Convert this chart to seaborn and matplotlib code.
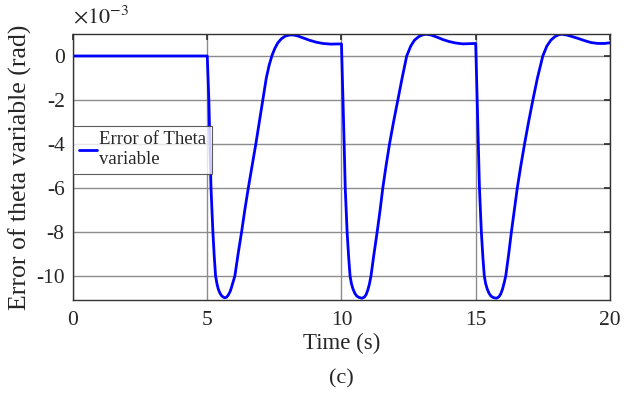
import matplotlib
matplotlib.use("Agg")
import matplotlib.pyplot as plt
import seaborn as sns
import pandas as pd

# Time (s) and error (x1e-3 rad)
time_s = [0.0, 5.0, 5.03, 5.06, 5.10, 5.14, 5.21, 5.26, 5.31, 5.36, 5.41, 5.47, 5.53, 5.60, 5.66, 5.72, 5.78, 5.85, 5.91, 5.97, 6.03,
          6.15, 6.28, 6.40, 6.53, 6.67, 6.81, 6.94, 7.07, 7.20, 7.31, 7.42, 7.52, 7.63, 7.76, 7.90, 8.05, 8.18, 8.35, 8.55, 8.80, 9.05, 9.30, 9.60, 9.98,
          10.0, 10.03, 10.06, 10.10, 10.14, 10.21, 10.27, 10.32, 10.37, 10.43, 10.50, 10.57, 10.65, 10.76, 10.85, 10.92, 10.98, 11.04, 11.10,
          11.20, 11.33, 11.44, 11.54, 11.66, 11.79, 11.94, 12.10, 12.26, 12.43, 12.58, 12.72, 12.88, 13.02, 13.15, 13.35, 13.55, 13.77, 14.00, 14.25, 14.52, 14.75, 14.98,
          15.0, 15.03, 15.06, 15.10, 15.14, 15.21, 15.27, 15.32, 15.37, 15.43, 15.50, 15.57, 15.66, 15.77, 15.86, 15.93, 16.00, 16.06, 16.12,
          16.23, 16.33, 16.44, 16.55, 16.68, 16.82, 16.97, 17.13, 17.30, 17.50, 17.65, 17.80, 17.95, 18.10, 18.20, 18.40, 18.60, 18.81, 19.10, 19.30, 19.55, 19.80, 20.0]
error_e3 = [0.0, 0.0, -1.0, -2.0, -4.0, -6.0, -8.0, -9.1, -10.0, -10.35, -10.6, -10.78, -10.9, -10.97, -11.0, -10.97, -10.88, -10.72, -10.5, -10.25, -10.0,
            -9.0, -8.0, -7.0, -6.0, -5.0, -4.0, -3.0, -2.0, -1.0, -0.4, 0.05, 0.35, 0.6, 0.78, 0.9, 0.95, 0.96, 0.92, 0.83, 0.72, 0.63, 0.57, 0.54, 0.55,
            0.55, -0.8, -2.0, -4.0, -6.0, -8.0, -9.2, -10.0, -10.35, -10.6, -10.8, -10.92, -10.98, -11.02, -10.97, -10.85, -10.65, -10.38, -10.0,
            -9.1, -8.0, -7.0, -6.0, -5.0, -4.0, -3.0, -2.0, -1.0, 0.0, 0.45, 0.72, 0.88, 0.96, 0.99, 0.95, 0.86, 0.75, 0.66, 0.59, 0.55, 0.56, 0.57,
            0.57, -0.8, -2.0, -4.0, -6.0, -8.0, -9.2, -10.0, -10.35, -10.6, -10.8, -10.92, -10.99, -11.02, -10.96, -10.83, -10.6, -10.32, -10.0,
            -9.0, -8.0, -7.0, -6.0, -5.0, -4.0, -3.0, -2.0, -1.0, 0.0, 0.45, 0.72, 0.88, 0.97, 0.99, 0.95, 0.88, 0.8, 0.68, 0.61, 0.57, 0.57, 0.6]

x_ticks = [0, 5, 10, 15, 20]
y_ticks = [0, -2, -4, -6, -8, -10]
y_tick_labels = ["0", "-2", "-4", "-6", "-8", "-10"]

df = pd.DataFrame({"Time": time_s, "Error": error_e3})

sns.set_theme(style="white")
plt.rcParams["font.family"] = ["Liberation Serif", "DejaVu Serif"]
plt.rcParams["mathtext.fontset"] = "stix"

fig = plt.figure(figsize=(6.36, 3.93), dpi=100)
ax = fig.add_axes([0.1148, 0.2366, 0.8442, 0.6769])

sns.lineplot(data=df, x="Time", y="Error", ax=ax, color=(0, 0, 1), linewidth=2.0,
             label="Error of Theta\nvariable", sort=False)

ax.set_xlim(0, 20)
ax.set_ylim(-11.1, 1.0)
ax.set_xticks(x_ticks)
ax.set_xticklabels([str(t) for t in x_ticks])
ax.set_yticks(y_ticks)
ax.set_yticklabels(y_tick_labels)
ax.grid(True, color="#8c8c8c", linewidth=1.0)
ax.set_axisbelow(True)
ax.tick_params(direction="in", length=4, labelsize=15.5, top=True, right=True,
               color="#333333")
ax.tick_params(axis="y", pad=6)
ax.tick_params(axis="x", pad=8)
for s in ax.spines.values():
    s.set_color("#333333")
    s.set_linewidth(1.0)

ax.set_xlabel("Time (s)", fontsize=16.5, labelpad=2)
ax.set_ylabel("Error of theta variable (rad)", fontsize=18.5, labelpad=3)
ax.text(0.0, 1.02, r"$\times10^{-3}$", transform=ax.transAxes, fontsize=16, ha="left", va="bottom")
fig.text(0.536, 0.035, "(c)", fontsize=16, ha="center", va="center")

leg = ax.legend(loc="center left", bbox_to_anchor=(0.0, 0.565), fontsize=13.5, frameon=True,
                fancybox=False, edgecolor="#333333", borderpad=0.3, handlelength=1.0,
                handletextpad=0.1, borderaxespad=0.0)
leg.get_frame().set_linewidth(0.8)

fig.savefig("out.png", dpi=100)
